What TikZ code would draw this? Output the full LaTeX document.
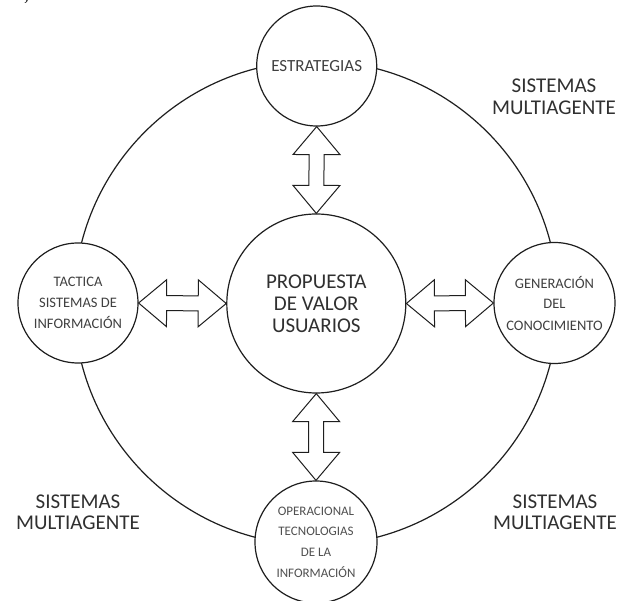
\documentclass[tikz,border=0pt]{standalone}
\usepackage{fontspec}
\setmainfont{Carlito}
\newfontfamily\serifcut{Liberation Serif}
\usetikzlibrary{calc}
\definecolor{ink}{HTML}{1E1E1E}
\definecolor{txtdark}{HTML}{303030}
\definecolor{txtmid}{HTML}{404040}
\definecolor{txtlight}{HTML}{505050}

\tikzset{
  ringline/.style={draw=ink, line width=1.2pt, circle, inner sep=0pt},
  smallcirc/.style={ringline, fill=white, align=center},
  bigtext/.style={font=\fontsize{21pt}{22pt}\selectfont, text=txtdark, align=center},
  agenttext/.style={font=\fontsize{21pt}{21.3pt}\selectfont, text=txtdark, align=center, inner sep=0pt},
  midtext/.style={font=\fontsize{14.5pt}{21pt}\selectfont, text=txtmid},
  lowtext/.style={font=\fontsize{13pt}{20.6pt}\selectfont, text=txtlight},
  arrowline/.style={draw=ink, line width=1pt, fill=white, line join=miter},
}

% hollow double-headed arrow between two points
\newcommand\dblarrow[3]{%
  \coordinate (#3b1) at ($(#1)!28pt!(#2)$);
  \coordinate (#3b2) at ($(#2)!28pt!(#1)$);
  \draw[arrowline] (#1)
    -- ($(#3b1)!23.5pt!90:(#2)$)
    -- ($(#3b1)!7.5pt!90:(#2)$)
    -- ($(#3b2)!7.5pt!-90:(#1)$)
    -- ($(#3b2)!23.5pt!-90:(#1)$)
    -- (#2)
    -- ($(#3b2)!23.5pt!90:(#1)$)
    -- ($(#3b2)!7.5pt!90:(#1)$)
    -- ($(#3b1)!7.5pt!-90:(#2)$)
    -- ($(#3b1)!23.5pt!-90:(#2)$)
    -- cycle;
}

\begin{document}
\begin{tikzpicture}[x=1pt, y=-1pt]
  \useasboundingbox[fill=white] (0,0) rectangle (625,601);

  % cut-off caption fragment at the top left (only the comma tail shows)
  \node[anchor=base west, inner sep=0pt, font=\serifcut\fontsize{20pt}{20pt}\selectfont] (frag) at (24,1) {,};

  % outer ring
  \node[ringline, minimum size=484pt] (ring) at (316,303) {};

  % central circle
  \node[smallcirc, minimum size=179pt, bigtext] (mid) at (316.3,303.5)
    {PROPUESTA\\DE VALOR\\USUARIOS};

  % satellite circles
  \node[smallcirc, minimum size=120pt, font=\fontsize{17pt}{20pt}\selectfont, text=txtmid] (top) at (316.7,66)
    {ESTRATEGIAS};
  \node[smallcirc, minimum size=120pt, midtext] (left) at (78,303)
    {TACTICA\\SISTEMAS DE\\INFORMACIÓN};
  \node[smallcirc, minimum size=121pt, midtext] (right) at (554.5,303)
    {GENERACIÓN\\DEL\\CONOCIMIENTO};
  \node[smallcirc, minimum size=122pt, lowtext] (bot) at (316,542)
    {OPERACIONAL\\TECNOLOGIAS\\DE LA\\INFORMACIÓN};

  % double arrows
  \dblarrow{top.south}{mid.north}{ta}
  \dblarrow{left.east}{mid.west}{la}
  \dblarrow{mid.east}{right.west}{ra}
  \dblarrow{mid.south}{bot.north}{ba}

  % free labels
  \node[agenttext] (agentTR) at (554,96.7) {SISTEMAS\\MULTIAGENTE};
  \node[agenttext] (agentBL) at (78,512.4) {SISTEMAS\\MULTIAGENTE};
  \node[agenttext] (agentBR) at (555,512.4) {SISTEMAS\\MULTIAGENTE};
\end{tikzpicture}
\end{document}
